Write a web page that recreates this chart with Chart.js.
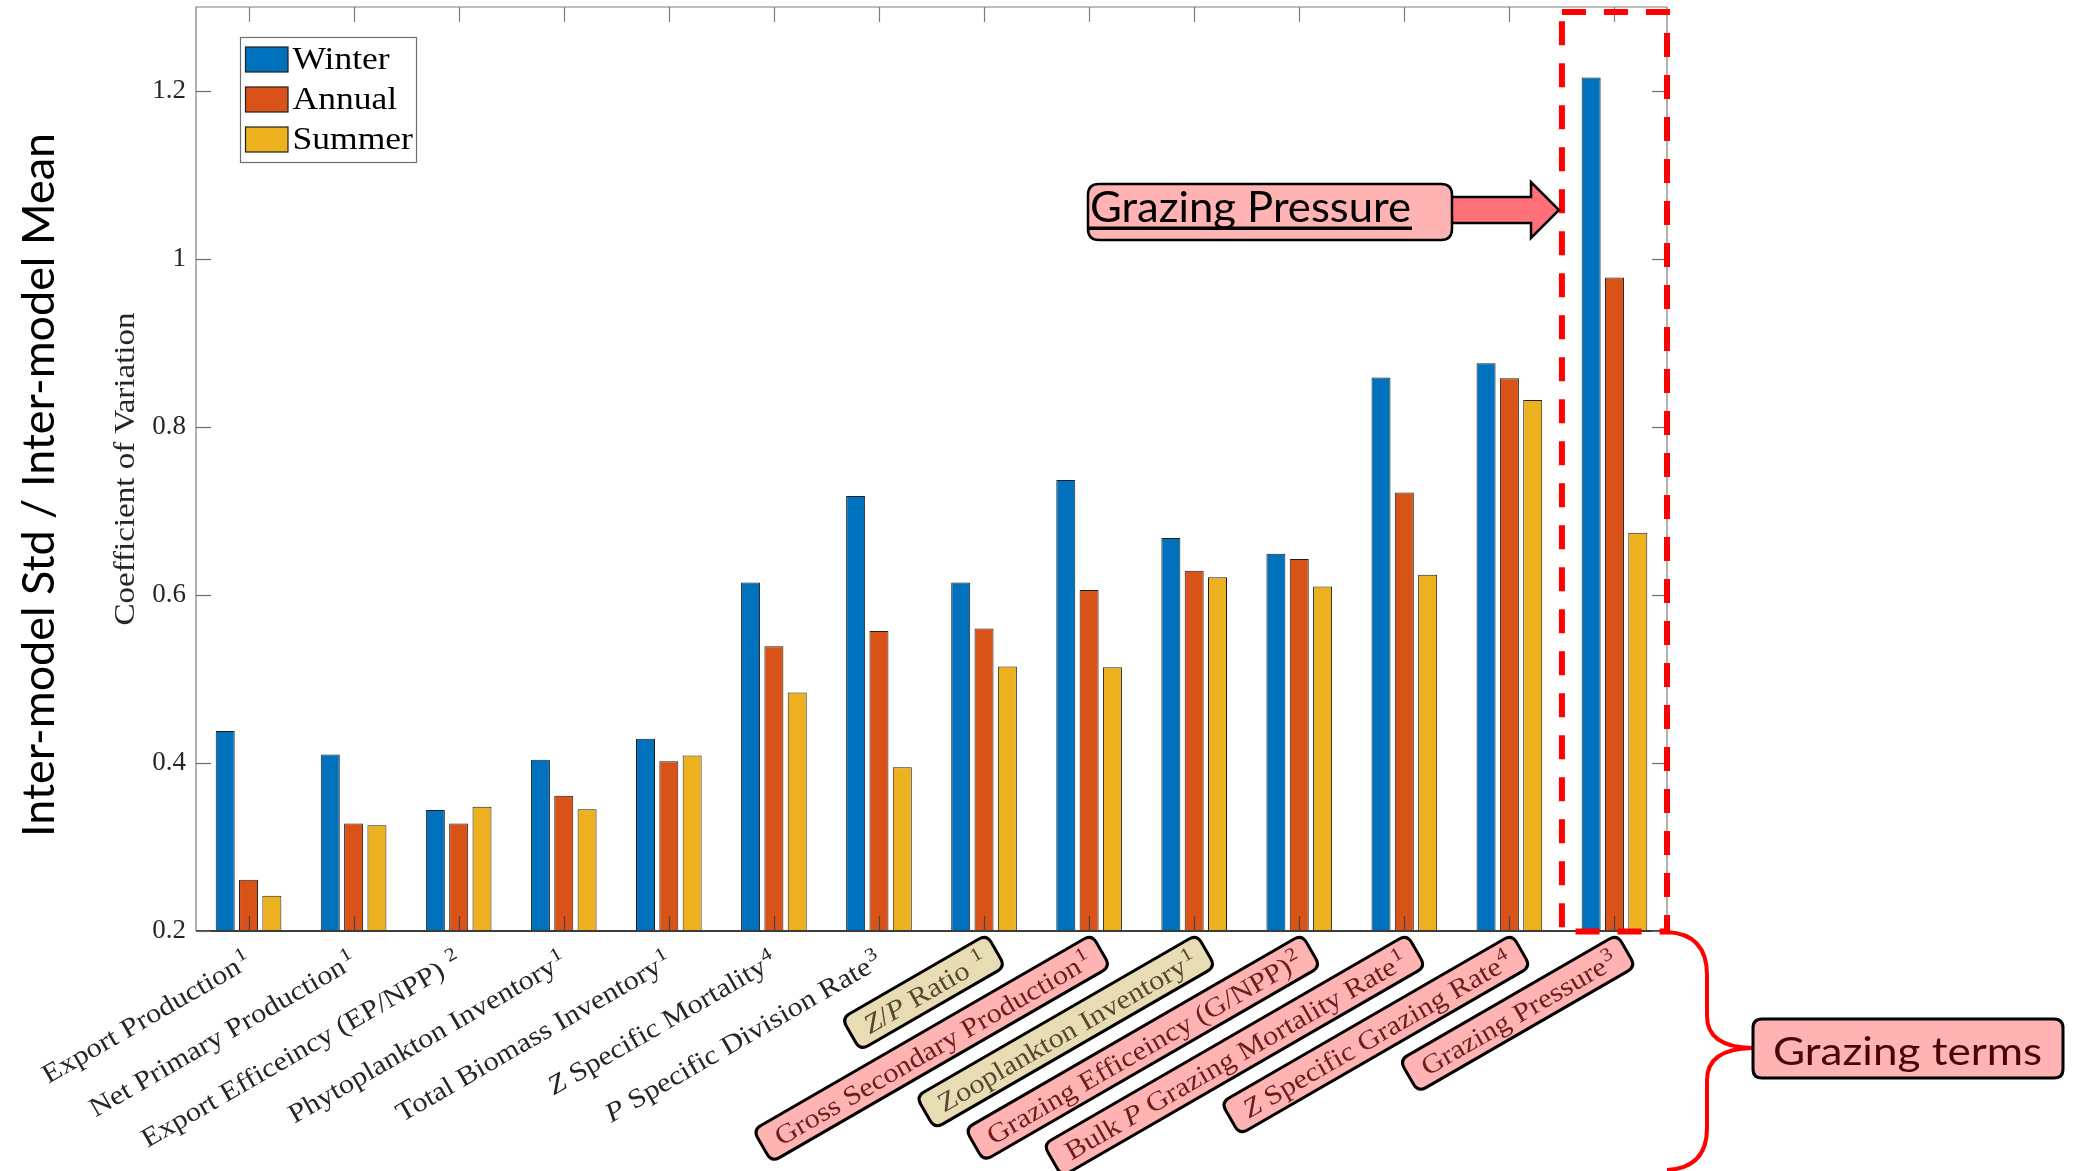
<!DOCTYPE html>
<html>
<head>
<meta charset="utf-8">
<title>Coefficient of Variation by term</title>
<script src="https://cdn.jsdelivr.net/npm/chart.js@4.4.1/dist/chart.umd.min.js"></script>
<style>
  html, body { margin: 0; padding: 0; background: #ffffff; }
  canvas { display: block; }
</style>
</head>
<body>
<canvas id="cv" width="2080" height="1171"></canvas>
<script>
// ---- data -------------------------------------------------------------
const categories = [
  'Export Production',
  'Net Primary Production',
  'Export Efficeincy (EP/NPP) ',
  'Phytoplankton Inventory',
  'Total Biomass Inventory',
  'Z Specific Mortality',
  'P Specific Division Rate',
  'Z/P Ratio ',
  'Gross Secondary Production',
  'Zooplankton Inventory',
  'Grazing Efficeincy (G/NPP)',
  'Bulk P Grazing Mortality Rate',
  'Z Specific Grazing Rate',
  'Grazing Pressure'
];
const notes = ['1', '1', '2', '1', '1', '4', '3', '1', '1', '1', '2', '1', '4', '3'];
const labelHighlight = ['', '', '', '', '', '', '', 'tan', 'pink', 'tan', 'pink', 'pink', 'pink', 'pink'];

const winter = [0.438, 0.410, 0.344, 0.404, 0.429, 0.615, 0.718, 0.615, 0.737, 0.668, 0.649, 0.859, 0.876, 1.216];
const annual = [0.261, 0.328, 0.328, 0.361, 0.402, 0.539, 0.557, 0.560, 0.606, 0.629, 0.643, 0.722, 0.858, 0.978];
const summer = [0.242, 0.326, 0.348, 0.345, 0.409, 0.484, 0.395, 0.515, 0.514, 0.621, 0.610, 0.624, 0.832, 0.674];

const yTickValues = [0.2, 0.4, 0.6, 0.8, 1.0, 1.2];
const yTickLabels = ['0.2', '0.4', '0.6', '0.8', '1', '1.2'];

// ---- styling ----------------------------------------------------------
const SERIF = '"Liberation Serif", "Times New Roman", serif';
const SANS = 'Lato, "Open Sans", sans-serif';
const INK = '#262626';
const HIGHLIGHT = {
  pink: { fill: '#ffb3b3', text: '#6e1d1d' },
  tan:  { fill: '#e8dcb5', text: '#56482a' }
};

function rounded(ctx, x, y, w, h, r) {
  ctx.beginPath();
  ctx.moveTo(x + r, y);
  ctx.lineTo(x + w - r, y);
  ctx.quadraticCurveTo(x + w, y, x + w, y + r);
  ctx.lineTo(x + w, y + h - r);
  ctx.quadraticCurveTo(x + w, y + h, x + w - r, y + h);
  ctx.lineTo(x + r, y + h);
  ctx.quadraticCurveTo(x, y + h, x, y + h - r);
  ctx.lineTo(x, y + r);
  ctx.quadraticCurveTo(x, y, x + r, y);
  ctx.closePath();
}

// single-letter Z and P are variables and are set in italics
function labelRuns(text) {
  return text.split(/\b([ZP])\b/)
    .map((t, i) => ({ text: t, italic: i % 2 === 1 }))
    .filter(r => r.text.length > 0);
}
function serifFont(italic, size) {
  return (italic ? 'italic ' : '') + size + 'px ' + SERIF;
}

// draw text squeezed/stretched horizontally to a given width
function fitText(ctx, text, x, y, width) {
  const w = ctx.measureText(text).width;
  ctx.save();
  ctx.translate(x, y);
  ctx.scale(width / w, 1);
  ctx.fillText(text, 0, 0);
  ctx.restore();
}

function drawCategoryLabel(ctx, i, x, y) {
  const fs = 27, supFs = 19, stretch = 1.13;
  const runs = labelRuns(categories[i]);
  let w = 0;
  runs.forEach(r => { ctx.font = serifFont(r.italic, fs); r.w = ctx.measureText(r.text).width; w += r.w; });
  ctx.font = serifFont(false, supFs);
  const sw = ctx.measureText(notes[i]).width;
  const raw = w + 1 + sw;
  const total = raw * stretch;

  ctx.save();
  ctx.translate(x, y);
  ctx.rotate(-Math.PI / 6);
  let color = INK;
  const hl = labelHighlight[i];
  if (hl) {
    const st = HIGHLIGHT[hl];
    rounded(ctx, -total - 16, -19, total + 30, 37, 9);
    ctx.fillStyle = st.fill;
    ctx.fill();
    ctx.lineWidth = 3;
    ctx.strokeStyle = '#000';
    ctx.stroke();
    color = st.text;
  }
  ctx.scale(stretch, 1);
  ctx.fillStyle = color;
  ctx.textAlign = 'left';
  ctx.textBaseline = 'alphabetic';
  let cx = -raw;
  runs.forEach(r => { ctx.font = serifFont(r.italic, fs); ctx.fillText(r.text, cx, 9); cx += r.w; });
  ctx.font = serifFont(false, supFs);
  ctx.fillText(notes[i], cx + 1, -1);
  ctx.restore();
}

// ---- axes frame, legend and annotations --------------------------------
const frame = {
  id: 'frame',
  afterDatasetsDraw(chart) {
    const ctx = chart.ctx, xs = chart.scales.x, ys = chart.scales.y, a = chart.chartArea;
    ctx.save();
    ctx.lineWidth = 1.2;
    ctx.strokeStyle = '#7d7d7d';
    ctx.beginPath();
    ctx.moveTo(a.left, a.bottom); ctx.lineTo(a.left, a.top);
    ctx.lineTo(a.right, a.top); ctx.lineTo(a.right, a.bottom);
    ctx.stroke();
    ctx.lineWidth = 2;
    ctx.strokeStyle = '#3c3c3c';
    ctx.beginPath(); ctx.moveTo(a.left, a.bottom); ctx.lineTo(a.right, a.bottom); ctx.stroke();

    // inward tick marks on all four sides
    ctx.lineWidth = 1.2;
    categories.forEach((c, i) => {
      const x = Math.round(xs.getPixelForValue(i)) + 0.5;
      ctx.strokeStyle = '#444';
      ctx.beginPath(); ctx.moveTo(x, a.bottom); ctx.lineTo(x, a.bottom - 15); ctx.stroke();
      ctx.strokeStyle = '#7d7d7d';
      ctx.beginPath(); ctx.moveTo(x, a.top); ctx.lineTo(x, a.top + 15); ctx.stroke();
    });
    ctx.strokeStyle = '#6a6a6a';
    yTickValues.forEach(v => {
      const y = Math.round(ys.getPixelForValue(v)) + 0.5;
      ctx.beginPath(); ctx.moveTo(a.left, y); ctx.lineTo(a.left + 15, y); ctx.stroke();
      ctx.beginPath(); ctx.moveTo(a.right, y); ctx.lineTo(a.right - 15, y); ctx.stroke();
    });
    ctx.restore();
  },
  afterDraw(chart) {
    const ctx = chart.ctx, xs = chart.scales.x, a = chart.chartArea;
    ctx.save();

    // rotated category labels
    categories.forEach((c, i) => drawCategoryLabel(ctx, i, xs.getPixelForValue(i), a.bottom + 27));

    // y axis title
    ctx.save();
    ctx.translate(126.5, (a.top + a.bottom) / 2);
    ctx.rotate(-Math.PI / 2);
    ctx.scale(1.12, 1);
    ctx.font = '29.5px ' + SERIF;
    ctx.fillStyle = INK;
    ctx.textAlign = 'center';
    ctx.textBaseline = 'middle';
    ctx.fillText('Coefficient of Variation', 0, 0);
    ctx.restore();

    // outer axis title
    ctx.save();
    ctx.translate(54, 485);
    ctx.rotate(-Math.PI / 2);
    ctx.font = '45px ' + SANS;
    ctx.fillStyle = '#000';
    ctx.textAlign = 'left';
    ctx.textBaseline = 'alphabetic';
    fitText(ctx, 'Inter-model Std / Inter-model Mean', -352, 0, 704);
    ctx.restore();

    // legend
    const lx = 240, ly = 37;
    ctx.fillStyle = '#fff';
    ctx.fillRect(lx, ly, 176, 125);
    ctx.lineWidth = 1.2;
    ctx.strokeStyle = '#6e6e6e';
    ctx.strokeRect(lx + 0.5, ly + 0.5, 176, 125);
    chart.data.datasets.forEach((ds, k) => {
      const sy = ly + 10 + 40 * k;
      ctx.fillStyle = ds.backgroundColor;
      ctx.fillRect(lx + 5.5, sy, 42.5, 25);
      ctx.lineWidth = 1.2;
      ctx.strokeStyle = '#1e1e1e';
      ctx.strokeRect(lx + 5.5, sy, 42.5, 25);
      ctx.save();
      ctx.translate(lx + 52.5, sy + 21.6);
      ctx.scale(1.11, 1);
      ctx.font = '32px ' + SERIF;
      ctx.fillStyle = '#000';
      ctx.textAlign = 'left';
      ctx.textBaseline = 'alphabetic';
      ctx.fillText(ds.label, 0, 0);
      ctx.restore();
    });

    // dashed frame around the last group
    const gx = xs.getPixelForValue(categories.length - 1);
    const half = (xs.getPixelForValue(1) - xs.getPixelForValue(0)) / 2;
    ctx.save();
    ctx.setLineDash([24, 18]);
    ctx.lineWidth = 6;
    ctx.strokeStyle = '#ff0000';
    ctx.strokeRect(gx - half, 12, a.right - (gx - half), a.bottom + 0.5 - 12);
    ctx.restore();

    // callout box with arrow
    ctx.lineJoin = 'miter';
    ctx.beginPath();
    ctx.moveTo(1450, 197); ctx.lineTo(1531, 197); ctx.lineTo(1531, 182);
    ctx.lineTo(1559, 210); ctx.lineTo(1531, 238); ctx.lineTo(1531, 223);
    ctx.lineTo(1450, 223); ctx.closePath();
    ctx.fillStyle = '#ff7178';
    ctx.fill();
    ctx.lineWidth = 2.5;
    ctx.strokeStyle = '#000';
    ctx.stroke();
    rounded(ctx, 1088, 184, 364, 56, 11);
    ctx.fillStyle = '#ffb3b3';
    ctx.fill();
    ctx.lineWidth = 2.5;
    ctx.stroke();
    ctx.font = '42px ' + SANS;
    ctx.fillStyle = '#000';
    ctx.textAlign = 'left';
    ctx.textBaseline = 'alphabetic';
    fitText(ctx, 'Grazing Pressure', 1090, 221.5, 321);
    ctx.fillRect(1089, 226.5, 323, 3.5);

    // curly brace
    ctx.beginPath();
    ctx.moveTo(1667, 932);
    ctx.quadraticCurveTo(1707, 934, 1707, 975);
    ctx.lineTo(1707, 1016);
    ctx.quadraticCurveTo(1707, 1047, 1752, 1048);
    ctx.quadraticCurveTo(1707, 1049, 1707, 1080);
    ctx.lineTo(1707, 1128);
    ctx.quadraticCurveTo(1707, 1168, 1667, 1170);
    ctx.lineWidth = 4;
    ctx.strokeStyle = '#ff0000';
    ctx.stroke();

    // group caption
    rounded(ctx, 1753, 1019, 310, 59, 9);
    ctx.fillStyle = '#ffb3b3';
    ctx.fill();
    ctx.lineWidth = 3;
    ctx.strokeStyle = '#000';
    ctx.stroke();
    ctx.font = '39px ' + SANS;
    ctx.fillStyle = '#4a0505';
    fitText(ctx, 'Grazing terms', 1773, 1065, 269);

    ctx.restore();
  }
};

// ---- chart ------------------------------------------------------------
new Chart(document.getElementById('cv'), {
  type: 'bar',
  data: {
    labels: categories,
    datasets: [
      { label: 'Winter', data: winter, backgroundColor: '#0072bd' },
      { label: 'Annual', data: annual, backgroundColor: '#d95319' },
      { label: 'Summer', data: summer, backgroundColor: '#edb120' }
    ]
  },
  options: {
    responsive: false,
    devicePixelRatio: 1,
    animation: false,
    layout: { padding: { top: 7, right: 413, left: 0, bottom: 0 } },
    datasets: {
      bar: {
        categoryPercentage: 0.666,
        barPercentage: 0.815,
        borderColor: '#1e1e1e',
        borderWidth: 1
      }
    },
    plugins: {
      legend: { display: false },
      tooltip: { enabled: false }
    },
    scales: {
      x: {
        offset: true,
        grid: { display: false, drawTicks: false },
        border: { display: false },
        ticks: { display: false },
        afterFit(scale) { scale.height = 240; scale.paddingLeft = 0; scale.paddingRight = 0; }
      },
      y: {
        min: 0.2,
        max: 1.3,
        grid: { display: false, drawTicks: false },
        border: { display: false },
        afterBuildTicks(scale) { scale.ticks = yTickValues.map(v => ({ value: v })); },
        ticks: {
          padding: 10,
          color: INK,
          font: { family: SERIF, size: 27 },
          callback(value) { return yTickLabels[yTickValues.findIndex(v => Math.abs(v - value) < 1e-9)]; }
        },
        afterFit(scale) { scale.width = 196; scale.paddingTop = 0; scale.paddingBottom = 0; }
      }
    }
  },
  plugins: [frame]
});
</script>
</body>
</html>
